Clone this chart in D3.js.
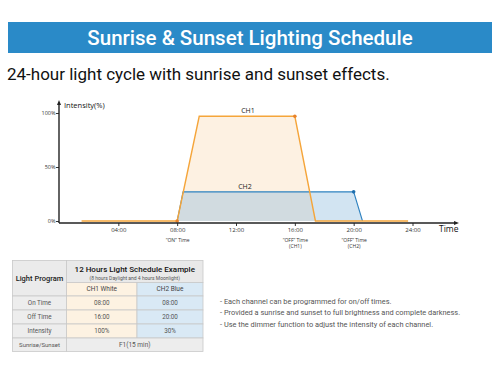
<!DOCTYPE html>
<html><head><meta charset="utf-8">
<script src="https://cdn.jsdelivr.net/npm/d3@7"></script>
<style>body{margin:0;background:#fff}svg{display:block}</style>
</head><body>
<script>
const titleText = "Sunrise & Sunset Lighting Schedule";
const subtitleText = "24-hour light cycle with sunrise and sunset effects.";
const ch1Hours = [1.5, 8, 9.5, 16, 17.4, 23.7];
const ch1Values = [0, 0, 97, 97, 0, 0];
const ch2Hours = [8, 8.4, 20, 20.6];
const ch2Values = [0, 27, 27, 0];
const ch1Dots = [[8, 0], [16, 97]];
const ch2Dots = [[20, 27]];
const xTicks = [4, 8, 12, 16, 20, 24];
const xTickLabels = ["04:00", "08:00", "12:00", "16:00", "20:00", "24:00"];
const xSubLabels = {8: ["\u201CON\u201D Time"], 16: ["\u201COFF\u201D Time", "(CH1)"], 20: ["\u201COFF\u201D Time", "(CH2)"]};
const yTicks = [0, 50, 100];
const tableTitle = "12 Hours Light Schedule Example";
const tableSub = "(8 hours Daylight and 4 hours Moonlight)";
const rowLabels = ["On Time", "Off Time", "Intensity"];
const ch1Col = ["08:00", "16:00", "100%"];
const ch2Col = ["08:00", "20:00", "30%"];
const bullets = ["- Each channel can be programmed for on/off times.",
  "- Provided a sunrise and sunset to full brightness and complete darkness.",
  "- Use the dimmer function to adjust the intensity of each channel."];

const svg = d3.select("body").append("svg").attr("width", 500).attr("height", 368);

// Title bar
svg.append("rect").attr("x", 8).attr("y", 22).attr("width", 484).attr("height", 31).attr("fill", "#2a8ac8");
svg.append("text").attr("x", 250).attr("y", 44.5).attr("text-anchor", "middle")
  .attr("font-family", "Roboto").attr("font-weight", 500).attr("font-size", 20.5).attr("fill", "#fff").text(titleText);
svg.append("text").attr("x", 7).attr("y", 79.5)
  .attr("font-family", "Roboto").attr("font-size", 17).attr("fill", "#111").text(subtitleText);

// Chart
const x = d3.scaleLinear().domain([0, 24]).range([59.5, 412.5]);
const y = d3.scaleLinear().domain([0, 100]).range([221, 113]);
const ch1 = ch1Hours.map((h, i) => [h, ch1Values[i]]);
const ch2 = ch2Hours.map((h, i) => [h, ch2Values[i]]);
const area = d3.area().x(d => x(d[0])).y0(y(0)).y1(d => y(d[1]));
const line = d3.line().x(d => x(d[0])).y(d => y(d[1]));
const g = svg.append("g");
g.append("path").datum(ch1.slice(1, 5)).attr("d", area).attr("fill", "#fdf1e2");
g.append("path").datum(ch2).attr("d", area).attr("fill", "#8ebbde").attr("fill-opacity", 0.4);
g.append("path").datum(ch2).attr("d", line).attr("fill", "none").attr("stroke", "#2f82c0").attr("stroke-width", 1.1);
g.append("path").datum(ch1).attr("d", line).attr("fill", "none").attr("stroke", "#f5a53a").attr("stroke-width", 1.4);
g.selectAll("circle.c1").data(ch1Dots).join("circle").attr("cx", d => x(d[0])).attr("cy", d => y(d[1])).attr("r", 1.8).attr("fill", "#e8822a");
g.selectAll("circle.c2").data(ch2Dots).join("circle").attr("cx", d => x(d[0])).attr("cy", d => y(d[1])).attr("r", 1.8).attr("fill", "#1f6fae");

const cf = "'Open Sans', 'DejaVu Sans', sans-serif";
g.append("text").attr("x", 248).attr("y", 112.5).attr("text-anchor", "middle").attr("font-family", cf).attr("font-size", 7).attr("fill", "#222").text("CH1");
g.append("text").attr("x", 245).attr("y", 188.5).attr("text-anchor", "middle").attr("font-family", cf).attr("font-size", 7).attr("fill", "#222").text("CH2");

// axes
const axY = 223;
const xAxis = d3.axisBottom(x).tickValues(xTicks).tickSize(3).tickFormat((d, i) => xTickLabels[i]);
const xg = svg.append("g").attr("transform", `translate(0,${axY})`).call(xAxis);
xg.select(".domain").remove();
xg.selectAll(".tick line").attr("stroke", "#333");
xg.selectAll(".tick text").attr("font-family", cf).attr("font-size", 6).attr("fill", "#333").attr("dy", "0.55em");
xg.selectAll(".tick").each(function(d) {
  const lines = xSubLabels[d];
  if (!lines) return;
  lines.forEach((t, i) => d3.select(this).append("text").attr("y", 18.6 + i * 6.2).attr("text-anchor", "middle")
    .attr("font-family", cf).attr("font-size", 5).attr("fill", "#333").text(t));
});
svg.append("line").attr("x1", 59).attr("x2", 456).attr("y1", axY).attr("y2", axY).attr("stroke", "#222").attr("stroke-width", 1.4);
svg.append("path").attr("d", `M459,${axY} L454,${axY - 2} L454,${axY + 2} Z`).attr("fill", "#222");
const yAxis = d3.axisLeft(y).tickValues(yTicks).tickSize(3).tickFormat(d => d + "%");
const yg = svg.append("g").attr("transform", "translate(59,0)").call(yAxis);
yg.select(".domain").remove();
yg.selectAll(".tick line").attr("stroke", "#333");
yg.selectAll(".tick text").attr("font-family", cf).attr("font-size", 5.5).attr("fill", "#333").attr("x", -3.5);
svg.append("line").attr("x1", 59).attr("x2", 59).attr("y1", 103).attr("y2", axY).attr("stroke", "#222").attr("stroke-width", 1.4);
svg.append("path").attr("d", `M59,100 L57,105 L61,105 Z`).attr("fill", "#222");
svg.append("text").attr("x", 64).attr("y", 107.5).attr("font-family", cf).attr("font-size", 7.5).attr("fill", "#111").text("Intensity(%)");
svg.append("text").attr("x", 439).attr("y", 232).attr("font-family", cf).attr("font-size", 8.5).attr("fill", "#111").text("Time");

// Table
const colX = [12.5, 66.5, 137, 203];
const rowY = [260.5, 282.5, 296, 310, 324, 338, 351.5];
const tf = "Roboto, sans-serif";
const tb = svg.append("g");
const cell = (x0, y0, x1, y1, fill) => tb.append("rect").attr("x", x0).attr("y", y0).attr("width", x1 - x0).attr("height", y1 - y0)
  .attr("fill", fill).attr("stroke", "#c9c9c9").attr("stroke-width", 0.8);
const txt = (cx, cy, s, size, color, weight) => tb.append("text").attr("x", cx).attr("y", cy).attr("text-anchor", "middle")
  .attr("dominant-baseline", "central").attr("font-family", tf).attr("font-size", size).attr("fill", color)
  .attr("font-weight", weight || 400).text(s);
cell(colX[0], rowY[0], colX[1], rowY[2], "#ebebeb");
txt((colX[0] + colX[1]) / 2, (rowY[0] + rowY[2]) / 2 + 0.5, "Light Program", 7.5, "#222", 500);
cell(colX[1], rowY[0], colX[3], rowY[1], "#e9e9e9");
txt((colX[1] + colX[3]) / 2, 269, tableTitle, 8, "#111", 500);
txt((colX[1] + colX[3]) / 2, 277.5, tableSub, 5, "#555");
cell(colX[1], rowY[1], colX[2], rowY[2], "#fdf2e2");
cell(colX[2], rowY[1], colX[3], rowY[2], "#d9e9f5");
txt((colX[1] + colX[2]) / 2, (rowY[1] + rowY[2]) / 2, "CH1 White", 6.5, "#444");
txt((colX[2] + colX[3]) / 2, (rowY[1] + rowY[2]) / 2, "CH2 Blue", 6.5, "#444");
rowLabels.forEach((r, i) => {
  const y0 = rowY[i + 2], y1 = rowY[i + 3], cy = (y0 + y1) / 2;
  cell(colX[0], y0, colX[1], y1, "#ededed");
  cell(colX[1], y0, colX[2], y1, "#fdf2e2");
  cell(colX[2], y0, colX[3], y1, "#d9e9f5");
  txt((colX[0] + colX[1]) / 2, cy, r, 6.3, "#555");
  txt((colX[1] + colX[2]) / 2, cy, ch1Col[i], 6.3, "#555");
  txt((colX[2] + colX[3]) / 2, cy, ch2Col[i], 6.3, "#555");
});
cell(colX[0], rowY[5], colX[1], rowY[6], "#ededed");
cell(colX[1], rowY[5], colX[3], rowY[6], "#ededed");
txt((colX[0] + colX[1]) / 2, (rowY[5] + rowY[6]) / 2, "Sunrise/Sunset", 6, "#555");
txt((colX[1] + colX[3]) / 2, (rowY[5] + rowY[6]) / 2, "F1(15 min)", 6.5, "#555");

// Bullets
svg.selectAll("text.bl").data(bullets).join("text").attr("class", "bl")
  .attr("x", 220).attr("y", (d, i) => 303.5 + i * 11.7)
  .attr("font-family", tf).attr("font-size", 7.4).attr("fill", "#555").text(d => d);
</script>
</body></html>
